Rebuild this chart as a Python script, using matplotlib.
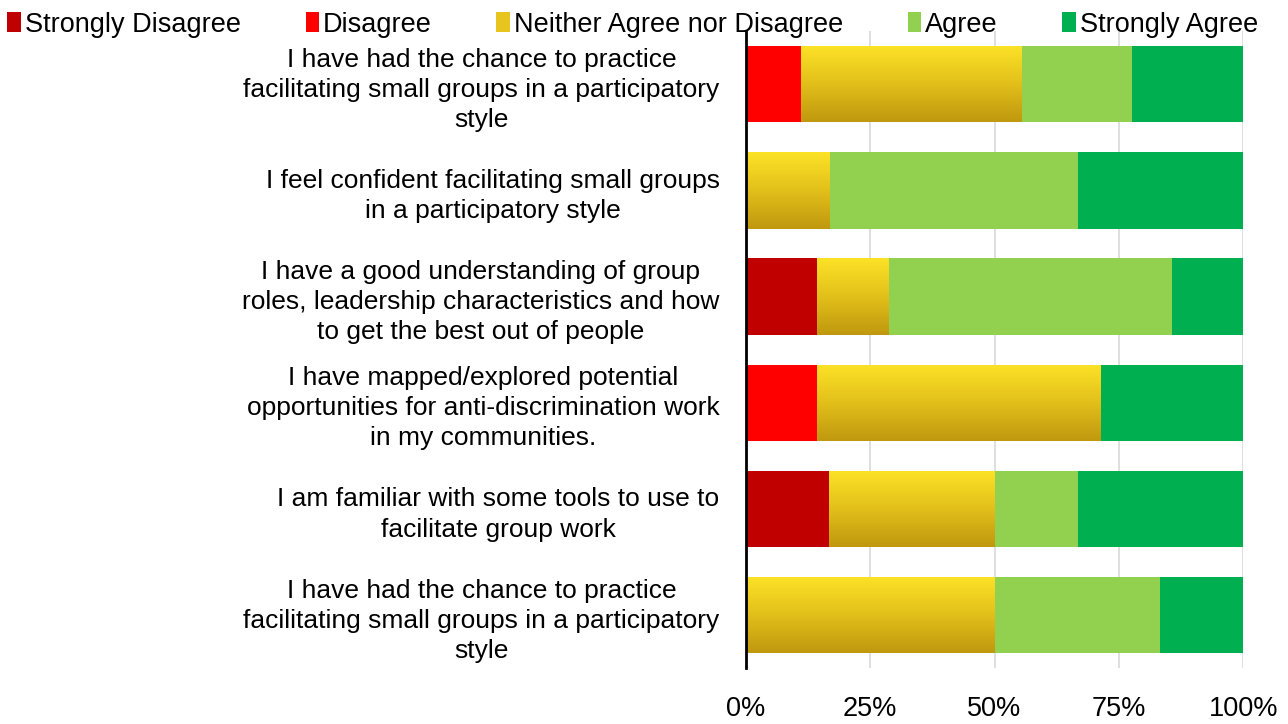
import numpy as np
import matplotlib.pyplot as plt
from matplotlib.colors import LinearSegmentedColormap

plt.rcParams['font.family'] = ['Liberation Sans', 'DejaVu Sans']

statements = [
    "I have had the chance to practice\nfacilitating small groups in a participatory\nstyle",
    "I feel confident facilitating small groups\nin a participatory style",
    "I have a good understanding of group\nroles, leadership characteristics and how\nto get the best out of people",
    "I have mapped/explored potential\nopportunities for anti-discrimination work\nin my communities.",
    "I am familiar with some tools to use to\nfacilitate group work",
    "I have had the chance to practice\nfacilitating small groups in a participatory\nstyle",
]
levels = ["Strongly Disagree", "Disagree", "Neither Agree nor Disagree",
          "Agree", "Strongly Agree"]

# percentages per statement, one list per response level
strongly_disagree = [0.0, 0.0, 14.3, 0.0, 16.7, 0.0]
disagree = [11.1, 0.0, 0.0, 14.3, 0.0, 0.0]
neither = [44.4, 16.7, 14.3, 57.1, 33.3, 50.0]
agree = [22.2, 50.0, 57.1, 0.0, 16.7, 33.3]
strongly_agree = [22.2, 33.3, 14.3, 28.6, 33.3, 16.7]

colors = ['#C00000', '#FF0000', '#E8C51E', '#92D050', '#00B050']
gold = LinearSegmentedColormap.from_list('gold', ['#FCE227', '#E2C01A', '#C0980F'])

fig = plt.figure(figsize=(12.88, 7.24), dpi=100)
ax = fig.add_axes([0.5792, 0.077, 0.386, 0.880])

series = [strongly_disagree, disagree, neither, agree, strongly_agree]
y = np.arange(len(statements))
bar_h = 0.72
left = np.zeros(len(statements))
for i, vals in enumerate(series):
    vals = np.array(vals)
    bars = ax.barh(y, vals, left=left, height=bar_h, color=colors[i],
                   edgecolor='none', label=levels[i], zorder=2)
    if i == 2:
        # vertical gold gradient inside each neutral bar
        for b in bars:
            if b.get_width() <= 0:
                continue
            x0, y0 = b.get_x(), b.get_y()
            w, h = b.get_width(), b.get_height()
            grad = np.linspace(0, 1, 100).reshape(-1, 1)
            im = ax.imshow(grad, cmap=gold, aspect='auto',
                           extent=[x0, x0 + w, y0 + h, y0], zorder=3)
            im.set_clip_path(b)
    left += vals

ax.set_xlim(0, 100)
ax.set_ylim(len(statements) - 0.5, -0.5)
ax.set_yticks(y)
ax.set_yticklabels(statements, fontsize=19, multialignment='center',
                   linespacing=1.32)
ax.set_xticks([0, 25, 50, 75, 100])
ax.set_xticklabels(['0%', '25%', '50%', '75%', '100%'], fontsize=19.5)
ax.tick_params(axis='y', length=0, pad=19)
ax.tick_params(axis='x', length=0, pad=20)
ax.grid(axis='x', color='#D9D9D9', linewidth=1.2, zorder=0)
for s in ['top', 'right', 'bottom']:
    ax.spines[s].set_visible(False)
ax.spines['left'].set_linewidth(2)
ax.spines['left'].set_zorder(5)

handles, labels = ax.get_legend_handles_labels()
fig.legend(handles, labels, loc='upper left', bbox_to_anchor=(-0.011, 1.014),
           ncol=5, frameon=False, fontsize=19.5, handlelength=0.5,
           handleheight=0.75, handletextpad=0.15, columnspacing=2.38,
           borderpad=0.3)

fig.savefig('out.png', dpi=100)
